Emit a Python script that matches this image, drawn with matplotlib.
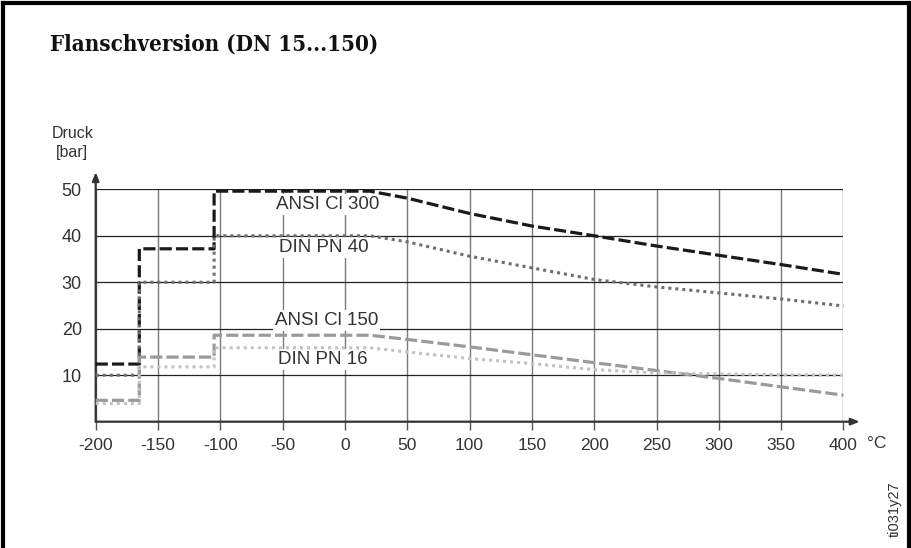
import matplotlib
matplotlib.use("Agg")
import matplotlib.pyplot as plt
from matplotlib.lines import Line2D
import numpy as np

W, H = 911, 548

# temperature breakpoints (°C) shared by all four curves
temps = [-200, -165, -165, -105, -105, 20, 50, 100, 150, 200, 250, 300, 350, 400]
ansi_300 = [12.4, 12.4, 37.2, 37.2, 49.6, 49.6, 48.1, 44.8, 42.1, 40.0, 37.8, 35.8, 33.8, 31.7]
din_pn40 = [10.0, 10.0, 30.0, 30.0, 40.0, 40.0, 38.7, 35.6, 33.1, 30.6, 29.0, 27.7, 26.4, 24.9]
ansi_150 = [4.6, 4.6, 13.9, 13.9, 18.6, 18.6, 17.7, 16.1, 14.4, 12.7, 11.0, 9.3, 7.5, 5.7]
din_pn16 = [3.9, 3.9, 11.8, 11.8, 15.9, 15.9, 15.0, 13.6, 12.5, 11.2, 10.5, 10.3, 10.1, 10.0]

series_names = ["ANSI Cl 300", "DIN PN 40", "ANSI Cl 150", "DIN PN 16"]
label_x = [-14, -17, -15, -18]
label_y = [46.7, 37.4, 21.8, 13.4]

x_ticks = list(range(-200, 401, 50))
y_ticks = [10, 20, 30, 40, 50]

font = "Liberation Sans"
txt_col = "#333333"


def fx(px):
    return px / W


def fy(py):
    return 1 - py / H


fig = plt.figure(figsize=(W / 100, H / 100), dpi=100)
ax = fig.add_axes([fx(95.7), fy(421.7), (843.5 - 95.7) / W, (421.7 - 189.3) / H])
ax.set_xlim(-200, 400)
ax.set_ylim(0, 50)
for s in ax.spines.values():
    s.set_visible(False)

ax.set_xticks(x_ticks)
ax.set_xticklabels([str(v) for v in x_ticks], fontfamily=font, fontsize=12.5, color=txt_col)
ax.set_yticks(y_ticks)
ax.set_yticklabels([str(v) for v in y_ticks], fontfamily=font, fontsize=13, color=txt_col)
ax.tick_params(axis="x", length=5.5, width=1, color="#555555", pad=6)
ax.tick_params(axis="y", length=0, pad=10)
ax.xaxis.grid(True, color="#7a7a7a", lw=1.0)
ax.yaxis.grid(True, color="#222222", lw=0.9)
ax.set_axisbelow(True)

# axis lines with arrows
ax.annotate("", xy=(413, 0), xytext=(-200, 0), annotation_clip=False,
            arrowprops=dict(arrowstyle="-|>,head_length=0.5,head_width=0.2", color="#333333", lw=1.6,
                            shrinkA=0, shrinkB=0))
ax.annotate("", xy=(-200, 53.7), xytext=(-200, 0), annotation_clip=False,
            arrowprops=dict(arrowstyle="-|>,head_length=0.5,head_width=0.2", color="#333333", lw=1.6,
                            shrinkA=0, shrinkB=0))

ax.plot(temps, ansi_300, color="#1a1a1a", lw=2.3, dashes=(3.8, 1.3), zorder=4, clip_on=False)
ax.plot(temps, din_pn40, color="#6e6e6e", lw=2.2, dashes=(1.0, 1.3), zorder=4, clip_on=False)
ax.plot(temps, ansi_150, color="#9a9a9a", lw=2.3, dashes=(3.8, 1.3), zorder=4, clip_on=False)
ax.plot(temps, din_pn16, color="#c2c2c2", lw=2.2, dashes=(1.0, 1.3), zorder=4, clip_on=False)

for name, x, y in zip(series_names, label_x, label_y):
    ax.text(x, y, name, ha="center", va="center", fontfamily=font, fontsize=13.5, color=txt_col,
            zorder=3, bbox=dict(facecolor="white", edgecolor="none", pad=1.5))

fig.text(fx(867), fy(444), "°C", ha="left", va="center", fontfamily=font, fontsize=12.5, color=txt_col)
fig.text(fx(72.5), fy(134), "Druck", ha="center", va="center", fontfamily=font, fontsize=11.5, color=txt_col)
fig.text(fx(71.5), fy(153), "[bar]", ha="center", va="center", fontfamily=font, fontsize=11.5, color=txt_col)
fig.text(fx(50), fy(45), "Flanschversion (DN 15...150)", ha="left", va="center",
         fontfamily="DejaVu Serif", fontstretch="condensed", fontweight="bold", fontsize=16, color="#111111")
fig.text(fx(895), fy(509), "ti031y27", rotation=90, ha="center", va="center", fontfamily=font,
         fontsize=10.5, color=txt_col)

# page frame (open at the bottom)
for xs, ys in [([2.5, 2.5], [H, 2.5]), ([2.5, 908.5], [2.5, 2.5]), ([908.5, 908.5], [2.5, H])]:
    fig.add_artist(Line2D([fx(v) for v in xs], [fy(v) for v in ys], transform=fig.transFigure,
                          color="black", lw=3, solid_capstyle="projecting"))

fig.savefig("out.png", dpi=100, facecolor="white")
